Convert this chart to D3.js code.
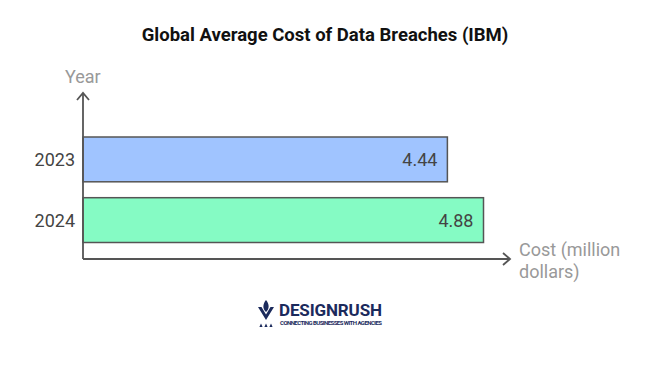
<!doctype html>
<html lang="en">
<head>
  <meta charset="utf-8">
  <title>Global Average Cost of Data Breaches (IBM)</title>
  <style>
    body { margin: 0; background: #fff; }
    text { font-family: Roboto, "Noto Sans", sans-serif; }
  </style>
</head>
<body>
  <div id="chart"></div>
  <script src="https://cdn.jsdelivr.net/npm/d3@7"></script>
  <script>
  (function(){

    // data
    var years = ["2023", "2024"];
    var costs = [4.44, 4.88];
    var barColors = ["#a0c4ff", "#85fbc4"];

    var width = 650, height = 367;
    var left = 83, base = 259;

    var svg = d3.select("#chart").append("svg")
        .attr("width", width)
        .attr("height", height);

    // zero based scale, ~82px per million
    var x = d3.scaleLinear().domain([0, 4.88]).range([left, 483.5]);
    var y = d3.scaleBand().domain(years).range([137, 242.5]).paddingInner(0.262).paddingOuter(0);

    svg.append("text")
      .attr("x", 325).attr("y", 41)
      .attr("text-anchor", "middle")
      .style("font-size", "18.5px").style("font-weight", "bold").style("fill", "#111")
      .text("Global Average Cost of Data Breaches (IBM)");

    var bars = svg.selectAll(".bar").data(years).enter().append("g");

    bars.append("rect")
      .attr("x", x(0))
      .attr("y", function(d){ return y(d); })
      .attr("width", function(d, i){ return x(costs[i]) - x(0); })
      .attr("height", y.bandwidth())
      .style("fill", function(d, i){ return barColors[i]; })
      .style("stroke", "#555").style("stroke-width", 1.5);

    bars.append("text")
      .attr("x", function(d, i){ return x(costs[i]) - 10; })
      .attr("y", function(d){ return y(d) + y.bandwidth() / 2; })
      .attr("dy", "0.36em")
      .attr("text-anchor", "end")
      .style("font-size", "18px").style("fill", "#444")
      .text(function(d, i){ return costs[i].toFixed(2); });

    bars.append("text")
      .attr("x", 75)
      .attr("y", function(d){ return y(d) + y.bandwidth() / 2; })
      .attr("dy", "0.36em")
      .attr("text-anchor", "end")
      .style("font-size", "18px").style("fill", "#444")
      .text(function(d){ return d; });

    // axes with arrow heads
    var axis = svg.append("g").style("stroke", "#555").style("stroke-width", 1.8).style("fill", "none");
    axis.append("path").attr("d", "M" + left + "," + base + "V93");
    axis.append("path").attr("d", "M" + (left - 6) + ",100L" + left + ",93L" + (left + 6) + ",100");
    axis.append("path").attr("d", "M" + left + "," + base + "H510");
    axis.append("path").attr("d", "M503," + (base - 6) + "L510," + base + "L503," + (base + 6));

    svg.append("text")
      .attr("x", 65).attr("y", 83)
      .style("font-size", "18px").style("fill", "#999")
      .text("Year");

    var xt = svg.append("text")
      .attr("x", 519).attr("y", 256)
      .style("font-size", "18px").style("fill", "#999");
    xt.append("tspan").attr("x", 519).text("Cost (million");
    xt.append("tspan").attr("x", 519).attr("dy", 22).text("dollars)");

    // logo
    var logo = svg.append("g").style("fill", "#1b2a5c");
    logo.append("path").attr("d", "M258,307L266,320L274,307L270.5,307L266,314.5L261.5,307Z");
    logo.append("path").attr("d", "M266,300C262.5,304 262.5,309 266,312C269.5,309 269.5,304 266,300Z");
    [261, 266, 271].forEach(function(cx){
      logo.append("path").attr("d", "M" + (cx - 1.6) + ",327L" + cx + ",323.5L" + (cx + 1.6) + ",327Z");
    });
    logo.append("text")
      .attr("x", 279).attr("y", 316)
      .attr("textLength", 103)
      .style("font-size", "17px").style("font-weight", "bold")
      .text("DESIGNRUSH");
    logo.append("text")
      .attr("x", 280).attr("y", 325)
      .attr("textLength", 102)
      .style("font-size", "6px").style("font-weight", "bold")
      .text("CONNECTING BUSINESSES WITH AGENCIES");

  })();
  </script>
</body>
</html>
